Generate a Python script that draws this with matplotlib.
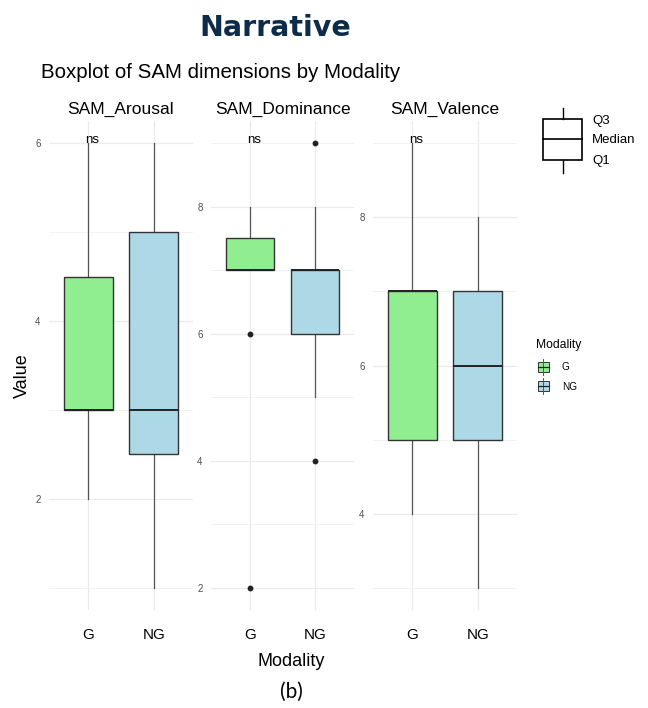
"""
Boxplot of SAM dimensions by Modality (Narrative, panel b)
Three free-y facets, G vs NG, with the ggplot-style legend on the right
"""

import matplotlib
matplotlib.use("Agg")
import matplotlib.pyplot as plt
from matplotlib.patches import Rectangle

# --- data ---
dimensions = ["SAM_Arousal", "SAM_Dominance", "SAM_Valence"]
groups = ["G", "NG"]
group_colors = ["#90EE90", "#ADD8E6"]
pvalue_labels = ["ns", "ns", "ns"]

# five-number summaries: [G, NG] for each dimension
whislo = [[2, 1], [7, 5], [4, 3]]
q1 = [[3, 2.5], [7, 6], [5, 5]]
median = [[3, 3], [7, 7], [7, 6]]
q3 = [[4.5, 5], [7.5, 7], [7, 7]]
whishi = [[6, 6], [8, 8], [9, 8]]
fliers = [[[], []], [[6, 2], [9, 4]], [[], []]]

y_ticks = [[2, 4, 6], [2, 4, 6, 8], [4, 6, 8]]

W, H = 648, 708
fig = plt.figure(figsize=(W / 100, H / 100), dpi=100)
plt.rcParams['font.family'] = ['Liberation Sans', 'DejaVu Sans']


def px_rect(x0, x1, y0, y1):
    return [x0 / W, 1 - y1 / H, (x1 - x0) / W, (y1 - y0) / H]


panel_x = [(49, 193), (211, 354), (373, 517)]
top, bottom = 121, 610

for i, name in enumerate(dimensions):
    ax = fig.add_axes(px_rect(panel_x[i][0], panel_x[i][1], top, bottom))
    stats = []
    for j, g in enumerate(groups):
        stats.append({
            'label': g, 'whislo': whislo[i][j], 'q1': q1[i][j], 'med': median[i][j],
            'q3': q3[i][j], 'whishi': whishi[i][j], 'fliers': fliers[i][j],
        })
    bp = ax.bxp(stats, positions=[1, 2], widths=0.75, patch_artist=True,
                showcaps=False,
                boxprops=dict(edgecolor='#333333', linewidth=1.0),
                whiskerprops=dict(color='#555555', linewidth=0.9),
                medianprops=dict(color='#222222', linewidth=1.4),
                flierprops=dict(marker='o', markersize=3.2, markerfacecolor='#222222',
                                markeredgecolor='#222222'))
    for patch, c in zip(bp['boxes'], group_colors):
        patch.set_facecolor(c)
    for b in bp['boxes']:
        b.set_zorder(3)
    for m in bp['medians']:
        m.set_zorder(4)

    # y range with 5% expansion like ggplot
    vals = [v for j in range(2) for v in [whislo[i][j], whishi[i][j]] + fliers[i][j]]
    lo, hi = min(vals), max(vals)
    pad = 0.05 * (hi - lo)
    ax.set_ylim(lo - pad, hi + pad)
    ax.set_xlim(0.4, 2.6)

    ax.set_yticks(y_ticks[i])
    ax.set_yticks([t + 1 for t in range(int(lo), int(hi)) if t + 1 not in y_ticks[i]] +
                  [lo] * (lo not in y_ticks[i]), minor=True)
    ax.set_xticks([1, 2])
    ax.set_xticklabels(groups)
    ax.grid(True, which='major', color='#ebebeb', linewidth=0.9, zorder=0)
    ax.grid(True, which='minor', axis='y', color='#f2f2f2', linewidth=0.7, zorder=0)
    ax.set_axisbelow(True)
    for s in ax.spines.values():
        s.set_visible(False)
    ax.tick_params(axis='both', which='both', length=0)
    ax.tick_params(axis='y', labelsize=7, labelcolor='#4d4d4d', pad=6)
    ax.tick_params(axis='x', labelsize=11, labelcolor='black', pad=13)
    ax.set_title(name, fontsize=12.5, pad=5)

    ax.text(0.955, hi, pvalue_labels[i], fontsize=9.5, ha='left', va='baseline', zorder=5)

# --- titles and axis labels ---
fig.text(275 / W, 1 - 36 / H, "Narrative", fontsize=20.5, fontweight='bold',
         family=['DejaVu Sans'], color='#0d2c4a', ha='center', va='baseline')
fig.text(41 / W, 1 - 78 / H, "Boxplot of SAM dimensions by Modality", fontsize=14.8,
         ha='left', va='baseline')
fig.text(22 / W, 1 - 376 / H, "Value", fontsize=13, rotation=90, ha='center', va='center')
fig.text(291 / W, 1 - 666 / H, "Modality", fontsize=13, ha='center', va='baseline')
fig.text(291 / W, 1 - 692 / H, "(b)", fontsize=15, family=['Lato', 'DejaVu Sans'],
         ha='center', va='center')

# --- legend drawn in pixel space ---
lax = fig.add_axes([0, 0, 1, 1])
lax.set_xlim(0, W)
lax.set_ylim(H, 0)
lax.axis('off')

# quartile guide
lax.add_patch(Rectangle((543, 119), 39, 41, fill=False, edgecolor='black', linewidth=1.2))
lax.plot([543, 582], [139, 139], color='black', linewidth=1.2)
lax.plot([562.5, 562.5], [108, 119], color='black', linewidth=1.0)
lax.plot([562.5, 562.5], [160, 173], color='black', linewidth=1.0)
for lbl, yy in zip(["Q3", "Median", "Q1"], [121, 140, 161]):
    lax.text(592, yy, lbl, fontsize=9.5, ha='left', va='center')

# Modality legend
lax.text(536, 345, "Modality", fontsize=8.7, ha='left', va='center')
for k, (g, c) in enumerate(zip(groups, group_colors)):
    yc = 367 + 19 * k
    lax.plot([543, 543], [yc - 8, yc + 8], color='#555555', linewidth=0.7)
    lax.add_patch(Rectangle((537.5, yc - 5), 11, 10, facecolor=c, edgecolor='#333333',
                            linewidth=0.7))
    lax.plot([537.5, 548.5], [yc, yc], color='#222222', linewidth=0.9)
    lax.text(562, yc + 0.5, g, fontsize=7.2, ha='left', va='center')

fig.savefig("out.png", dpi=100)
